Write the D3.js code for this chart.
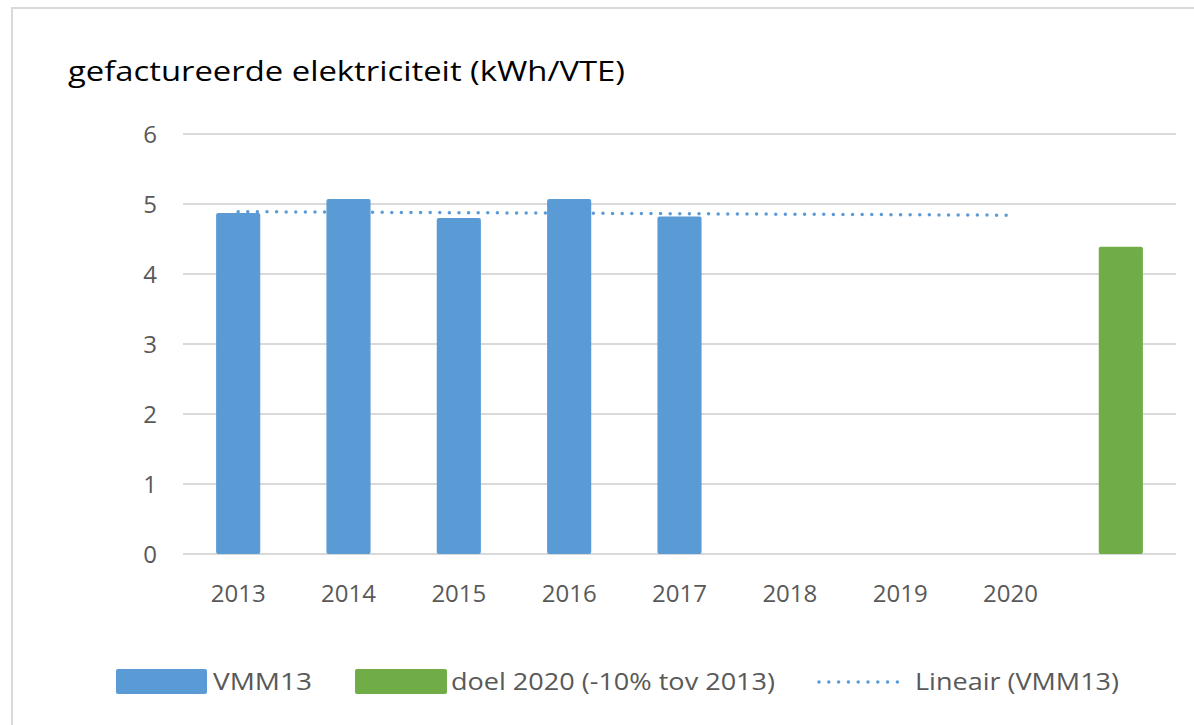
<!DOCTYPE html>
<html>
<head>
<meta charset="utf-8">
<script src="https://cdn.jsdelivr.net/npm/d3@7"></script>
<style>
  body { margin: 0; background: #fff; }
  text { font-family: "Open Sans", "Noto Sans", sans-serif; }
</style>
</head>
<body>
<svg id="chart" width="1194" height="725"></svg>
<script>
// DATA
var categories = ['2013', '2014', '2015', '2016', '2017', '2018', '2019', '2020', ''];
var vmm13 = [4.87, 5.07, 4.80, 5.07, 4.82, null, null, null, null];
var doel = [null, null, null, null, null, null, null, null, 4.39];
var trendCats = ['2013', '2020'];
var trendVals = [4.89, 4.84];
var yTicks = [0, 1, 2, 3, 4, 5, 6];

var blue = '#5B9BD5';
var green = '#70AD47';
var svg = d3.select('#chart');

// frame
svg.append('path')
  .attr('d', 'M12,725 L12,8 L1194,8')
  .attr('fill', 'none')
  .attr('stroke', '#d9d9d9')
  .attr('stroke-width', 2);

// SCALES
var xScale = d3.scaleBand().domain(categories).range([183, 1176]).paddingInner(0.6).paddingOuter(0.3);
var yScale = d3.scaleLinear().domain([0, 6]).range([554, 134]);

// gridlines
svg.selectAll('.grid')
  .data(yTicks)
  .enter().append('line')
  .attr('class', 'grid')
  .attr('x1', 183)
  .attr('x2', 1176)
  .attr('y1', d => yScale(d))
  .attr('y2', d => yScale(d))
  .attr('stroke', '#d9d9d9')
  .attr('stroke-width', 2);

// y labels
svg.selectAll('.ylab')
  .data(yTicks)
  .enter().append('text')
  .attr('class', 'ylab')
  .attr('x', 157)
  .attr('y', d => yScale(d))
  .attr('dy', '0.36em')
  .attr('text-anchor', 'end')
  .attr('font-size', '24px')
  .attr('fill', '#595959')
  .text(d => d);

// x labels
svg.selectAll('.xlab')
  .data(categories)
  .enter().append('text')
  .attr('class', 'xlab')
  .attr('x', d => xScale(d) + xScale.bandwidth() / 2)
  .attr('y', 593)
  .attr('dy', '0.36em')
  .attr('text-anchor', 'middle')
  .attr('font-size', '24px')
  .attr('fill', '#595959')
  .text(d => d);

// bars
function drawBars(vals, color) {
  svg.selectAll(null)
    .data(vals.map((v, i) => ({ c: categories[i], v: v })).filter(d => d.v != null))
    .enter().append('rect')
    .attr('x', d => xScale(d.c))
    .attr('y', d => yScale(d.v))
    .attr('width', xScale.bandwidth())
    .attr('height', d => yScale(0) - yScale(d.v))
    .attr('rx', 2)
    .attr('fill', color);
}
drawBars(vmm13, blue);
drawBars(doel, green);

// trend line
var line = d3.line()
  .x((d, i) => xScale(trendCats[i]) + xScale.bandwidth() / 2)
  .y(d => yScale(d));
svg.append('path')
  .datum(trendVals)
  .attr('d', line)
  .attr('fill', 'none')
  .attr('stroke', blue)
  .attr('stroke-width', 3.5)
  .attr('stroke-linecap', 'round')
  .attr('stroke-dasharray', '0,9.6');

// title
svg.append('text')
  .attr('x', 68)
  .attr('y', 81)
  .attr('font-size', '28px')
  .attr('fill', '#000')
  .attr('textLength', 557)
  .attr('lengthAdjust', 'spacingAndGlyphs')
  .text('gefactureerde elektriciteit (kWh/VTE)');

// legend
var legY = 682;
svg.append('rect').attr('x', 116).attr('y', 669).attr('width', 91).attr('height', 25).attr('rx', 2).attr('fill', blue);
svg.append('text').attr('x', 213).attr('y', legY).attr('dy', '0.36em').attr('font-size', '23px').attr('fill', '#595959')
  .attr('textLength', 99).attr('lengthAdjust', 'spacingAndGlyphs').text('VMM13');
svg.append('rect').attr('x', 355).attr('y', 669).attr('width', 92).attr('height', 25).attr('rx', 2).attr('fill', green);
svg.append('text').attr('x', 451).attr('y', legY).attr('dy', '0.36em').attr('font-size', '23px').attr('fill', '#595959')
  .attr('textLength', 324).attr('lengthAdjust', 'spacingAndGlyphs').text('doel 2020 (-10% tov 2013)');
svg.append('line').attr('x1', 819).attr('x2', 898).attr('y1', legY).attr('y2', legY)
  .attr('stroke', blue).attr('stroke-width', 3.5).attr('stroke-linecap', 'round').attr('stroke-dasharray', '0,9.8');
svg.append('text').attr('x', 915).attr('y', legY).attr('dy', '0.36em').attr('font-size', '23px').attr('fill', '#595959')
  .attr('textLength', 204).attr('lengthAdjust', 'spacingAndGlyphs').text('Lineair (VMM13)');
</script>
</body>
</html>
